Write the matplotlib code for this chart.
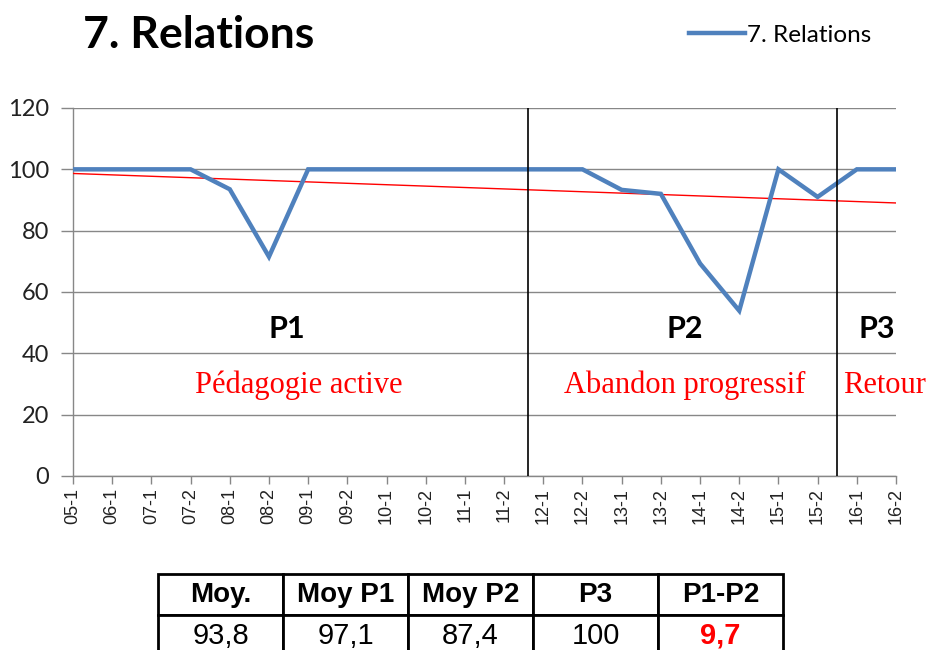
import numpy as np
import matplotlib
matplotlib.use('Agg')
import matplotlib.pyplot as plt

# data
labels = ['05-1', '06-1', '07-1', '07-2', '08-1', '08-2', '09-1', '09-2', '10-1', '10-2', '11-1',
          '11-2', '12-1', '12-2', '13-1', '13-2', '14-1', '14-2', '15-1', '15-2', '16-1', '16-2']
relations = [100, 100, 100, 100, 93.5, 71.5, 100, 100, 100, 100, 100,
             100, 100, 100, 93.3, 92, 69.3, 53.9, 100, 91, 100, 100]
period_breaks = [11.6, 19.5]

table_head = ['Moy.', 'Moy P1', 'Moy P2', 'P3', 'P1-P2']
table_vals = ['93,8', '97,1', '87,4', '100', '9,7']

W, H = 929, 650
fig = plt.figure(figsize=(W / 100, H / 100), dpi=100)

# plot area in pixels: x 73..896, y 108..476
ax = fig.add_axes([73 / W, 1 - 476 / H, (896 - 73) / W, (476 - 108) / H])
x = np.arange(len(labels))
ax.plot(x, relations, color='#4F81BD', lw=3.2, solid_joinstyle='miter', zorder=4,
        label='7. Relations')

# linear trend line, as excel draws it
k, b = np.polyfit(x, relations, 1)
xs = np.array([0, len(labels) - 1])
ax.plot(xs, k * xs + b, color='red', lw=1, zorder=3)

for xb in period_breaks:
    ax.axvline(xb, color='black', lw=1.2, zorder=5)

ax.set_xlim(0, len(labels) - 1)
ax.set_ylim(0, 120)
ax.set_yticks(range(0, 121, 20))
ax.set_xticks(x)
ax.set_xticklabels(labels, rotation=90, fontsize=13, family='Liberation Sans', color='#222222')
for t in ax.get_yticklabels():
    t.set_fontfamily('Lato')
    t.set_fontsize(17)
    t.set_color('#222222')
ax.tick_params(axis='y', length=9, width=1, color='#878787', pad=8)
ax.tick_params(axis='x', length=6, width=1, color='#878787', pad=2.5)
ax.grid(axis='y', color='#878787', lw=1)
ax.set_axisbelow(True)
for s in ['top', 'right']:
    ax.spines[s].set_visible(False)
for s in ['left', 'bottom']:
    ax.spines[s].set_color('#878787')
    ax.spines[s].set_linewidth(1)

# period labels
for px, name in [(5.46, 'P1'), (15.6, 'P2'), (20.5, 'P3')]:
    ax.text(px, 45, name, ha='center', va='baseline', fontsize=22, fontweight='bold',
            family='Lato', color='black', zorder=6)
ax.text(5.75, 27, 'Pédagogie active', ha='center', va='baseline', fontsize=22,
        family='Liberation Serif', color='red')
ax.text(15.6, 27, 'Abandon progressif', ha='center', va='baseline', fontsize=22,
        family='Liberation Serif', color='red')
ax.text(19.65, 27, 'Retour', ha='left', va='baseline', fontsize=22,
        family='Liberation Serif', color='red', clip_on=False)

fig.text(83 / W, 1 - 48 / H, '7. Relations', fontsize=32, fontweight='bold', family='Lato',
         ha='left', va='baseline')
leg = ax.legend(loc='center left', bbox_to_anchor=(689 / W, 1 - 35 / H),
                bbox_transform=fig.transFigure, frameon=False, handlelength=2.3,
                handletextpad=0.08, borderpad=0, borderaxespad=0,
                prop={'family': 'Lato', 'size': 17.5})

# summary table under the chart
tax = fig.add_axes([158 / W, 1 - 656 / H, (783 - 158) / W, (656 - 574) / H])
tax.axis('off')
tb = tax.table(cellText=[table_head, table_vals], cellLoc='center', bbox=[0, 0, 1, 1])
tb.auto_set_font_size(False)
for (r, c), cell in tb.get_celld().items():
    cell.set_linewidth(2)
    cell.set_edgecolor('black')
    txt = cell.get_text()
    txt.set_fontfamily('Liberation Sans')
    if r == 0:
        txt.set_fontsize(20)
        txt.set_fontweight('bold')
    else:
        txt.set_fontsize(21)
        if c == 4:
            txt.set_color('red')
            txt.set_fontweight('bold')

fig.savefig('out.png', dpi=100)
